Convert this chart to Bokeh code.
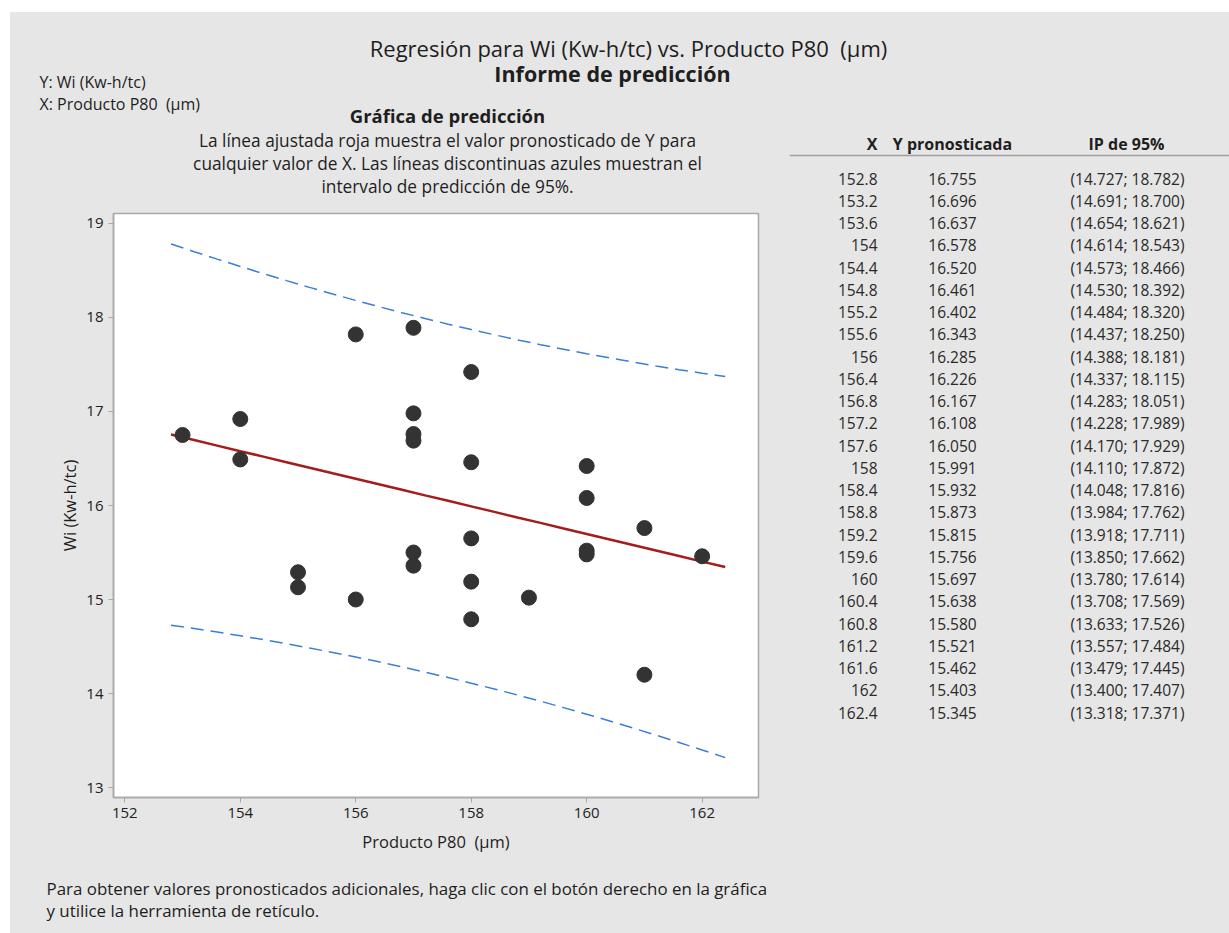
from bokeh.plotting import figure
from bokeh.layouts import column, row
from bokeh.models import (Label, LabelSet, ColumnDataSource, Range1d,
                          Span, FixedTicker)
from bokeh.core.properties import value
from bokeh.embed import file_html
from bokeh.resources import INLINE

# Observed data: product P80 (um) and work index Wi (Kw-h/tc)
obs_p80 = [153, 154, 154, 155, 155, 156, 156,
           157, 157, 157, 157, 157, 157,
           158, 158, 158, 158, 158, 159,
           160, 160, 160, 160, 161, 161, 162]
obs_wi = [16.75, 16.92, 16.49, 15.29, 15.13, 17.82, 15.00,
          17.89, 16.98, 16.76, 16.69, 15.50, 15.36,
          17.42, 16.46, 15.65, 15.19, 14.79, 15.02,
          16.42, 16.08, 15.52, 15.48, 15.76, 14.20, 15.46]

# Prediction table: X, fitted Y and 95% prediction interval
pred_x = [152.8, 153.2, 153.6, 154, 154.4, 154.8, 155.2, 155.6, 156, 156.4,
          156.8, 157.2, 157.6, 158, 158.4, 158.8, 159.2, 159.6, 160, 160.4,
          160.8, 161.2, 161.6, 162, 162.4]
pred_y = [16.755, 16.696, 16.637, 16.578, 16.520, 16.461, 16.402, 16.343,
          16.285, 16.226, 16.167, 16.108, 16.050, 15.991, 15.932, 15.873,
          15.815, 15.756, 15.697, 15.638, 15.580, 15.521, 15.462, 15.403,
          15.345]
pi_low = [14.727, 14.691, 14.654, 14.614, 14.573, 14.530, 14.484, 14.437,
          14.388, 14.337, 14.283, 14.228, 14.170, 14.110, 14.048, 13.984,
          13.918, 13.850, 13.780, 13.708, 13.633, 13.557, 13.479, 13.400,
          13.318]
pi_high = [18.782, 18.700, 18.621, 18.543, 18.466, 18.392, 18.320, 18.250,
           18.181, 18.115, 18.051, 17.989, 17.929, 17.872, 17.816, 17.762,
           17.711, 17.662, 17.614, 17.569, 17.526, 17.484, 17.445, 17.407,
           17.371]

x_ticks = [152, 154, 156, 158, 160, 162]
y_ticks = [13, 14, 15, 16, 17, 18, 19]

FONT = "Open Sans"
TXT = "#1e1e1e"
BG = "#e6e6e6"
NB = "\u00a0"  # keeps the double space in "P80  (µm)"
OX, OY = 10, 12  # white page margin (left, top)
GREY = {"background-color": BG}


def panel(w, h):
    """A blank grey canvas whose data units are pixels (y grows downward)."""
    f = figure(width=w, height=h, x_range=Range1d(0, w), y_range=Range1d(h, 0),
               output_backend="svg", toolbar_location=None,
               x_axis_location=None, y_axis_location=None,
               min_border=0, background_fill_color=BG, border_fill_color=BG,
               outline_line_color=None)
    f.xgrid.visible = False
    f.ygrid.visible = False
    return f


def put(f, text, x, y, size, align="left", bold=False, color=TXT):
    f.add_layout(Label(x=x, y=y, text=text, text_font=FONT,
                       text_font_size=f"{size}px", text_align=align,
                       text_baseline="middle", text_color=color,
                       text_font_style="bold" if bold else "normal"))


# ---- header (page y 12..128)
head = panel(1219, 116)
hx = lambda x: x - OX
hy = lambda y: y - OY
put(head, f"Regresión para Wi (Kw-h/tc) vs. Producto P80{NB} (µm)", hx(628), hy(47), 22, "center")
put(head, "Informe de predicción", hx(612), hy(73), 21.5, "center", bold=True)
put(head, "Y: Wi (Kw-h/tc)", hx(39), hy(81), 16)
put(head, f"X: Producto P80{NB} (µm)", hx(39), hy(103), 16)
put(head, "Gráfica de predicción", hx(447), hy(115), 18.5, "center", bold=True)

# ---- description (page y 128..200)
desc = panel(779, 72)
desc_lines = ["La línea ajustada roja muestra el valor pronosticado de Y para",
              "cualquier valor de X. Las líneas discontinuas azules muestran el",
              "intervalo de predicción de 95%."]
for i, line in enumerate(desc_lines):
    put(desc, line, 447 - OX, 140 + 23 * i - 128, 17.3, "center")

# ---- prediction plot (page y 200..862, frame 113..758 x 213..797)
p = figure(width=779, height=662,
           x_range=Range1d(151.804, 162.976), y_range=Range1d(12.894, 19.106),
           output_backend="svg", toolbar_location=None,
           min_border_left=103, min_border_right=31,
           min_border_top=13, min_border_bottom=65,
           background_fill_color="white", border_fill_color=BG,
           outline_line_color="#a8a8a8", outline_line_width=1.5)
p.xgrid.visible = False
p.ygrid.visible = False
p.xaxis.ticker = FixedTicker(ticks=x_ticks)
p.yaxis.ticker = FixedTicker(ticks=y_ticks)
p.xaxis.axis_label = f"Producto P80{NB} (µm)"
p.yaxis.axis_label = "Wi (Kw-h/tc)"
for ax in (p.xaxis[0], p.yaxis[0]):
    ax.axis_line_color = "#a8a8a8"
    ax.axis_line_width = 1.5
    ax.major_tick_line_color = "#a8a8a8"
    ax.major_tick_in = 0
    ax.major_tick_out = 5
    ax.minor_tick_line_color = None
    ax.major_label_text_font = FONT
    ax.major_label_text_font_size = "15px"
    ax.major_label_text_color = "#222222"
    ax.axis_label_text_font = FONT
    ax.axis_label_text_font_size = "16.5px"
    ax.axis_label_text_font_style = "normal"
    ax.axis_label_text_color = TXT
p.xaxis.axis_label_standoff = 9
p.yaxis.axis_label_standoff = 2

# 95% prediction interval (dashed blue) and fitted line (red)
p.line(pred_x, pi_high, color="#3a7fd5", line_width=1.5, line_dash="13 7")
p.line(pred_x, pi_low, color="#3a7fd5", line_width=1.5, line_dash="13 7")
p.line(pred_x, pred_y, color="#a51c1c", line_width=2.5)
p.scatter(obs_p80, obs_wi, size=15, color="#333333")

# ---- footer (page y 862..933)
foot = panel(779, 71)
foot_lines = ["Para obtener valores pronosticados adicionales, haga clic con el botón derecho en la gráfica",
              "y utilice la herramienta de retículo."]
for i, line in enumerate(foot_lines):
    put(foot, line, 46 - OX, 888 + 22 * i - 862, 16.9)

# ---- prediction table (page x 789..1229, y 128..933)
tab = panel(440, 805)
tx = lambda x: x - 789
ty = lambda y: y - 128
put(tab, "X", tx(877), ty(143), 16, "right", bold=True)
put(tab, "Y pronosticada", tx(952), ty(143), 16, "center", bold=True)
put(tab, "IP de 95%", tx(1126), ty(143), 16, "center", bold=True)
tab.add_layout(Span(location=ty(155), dimension="width",
                    line_color="#a0a0a0", line_width=1.5))

row_y = [ty(178 + 22.25 * i) for i in range(len(pred_x))]
cols = [
    ([f"{v:g}" for v in pred_x], tx(877), "right"),
    ([f"{v:.3f}" for v in pred_y], tx(952), "center"),
    ([f"({a:.3f}; {b:.3f})" for a, b in zip(pi_low, pi_high)], tx(1127), "center"),
]
for texts, cx, align in cols:
    src = ColumnDataSource(dict(x=[cx] * len(texts), y=row_y, t=texts))
    tab.add_layout(LabelSet(x="x", y="y", text="t", source=src,
                            text_font=value(FONT), text_font_size="15.5px",
                            text_align=align, text_baseline="middle",
                            text_color="#2a2a2a"))

left = column(desc, row(p, spacing=0, styles=GREY), foot, spacing=0, styles=GREY)
page = column(head, row(left, tab, spacing=0, styles=GREY), spacing=0,
              margin=(OY, 0, 0, OX), styles=GREY)
open("out.html", "w").write(file_html(page, INLINE))
